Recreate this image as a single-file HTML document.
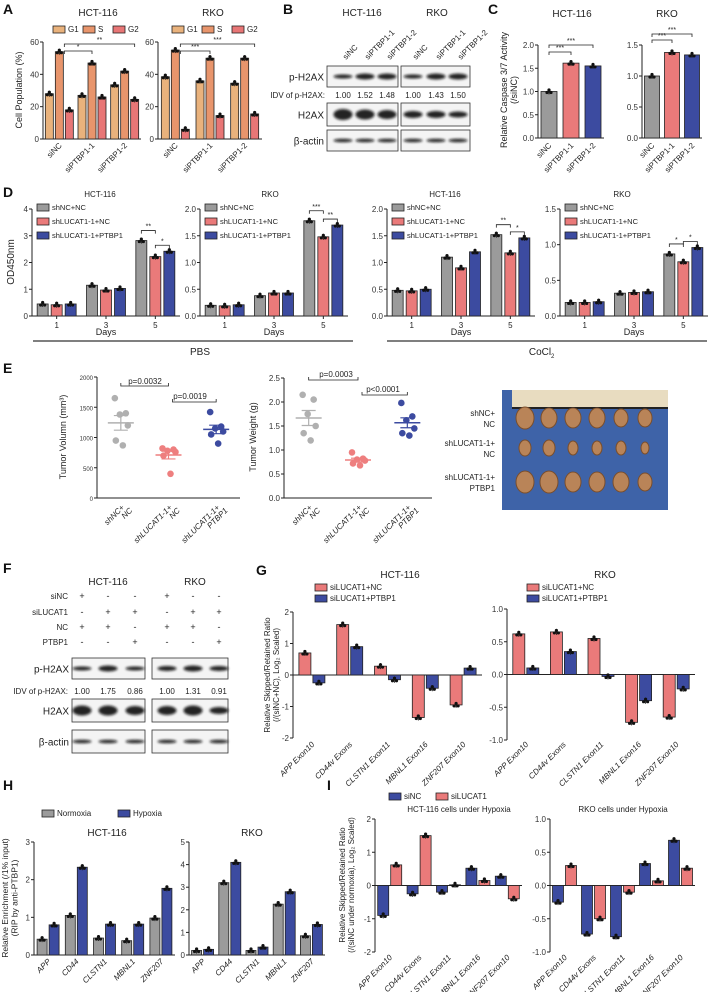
<!DOCTYPE html>
<html><head><meta charset="utf-8"><style>
html,body{margin:0;padding:0;background:#fff;}
svg{display:block;font-family:"Liberation Sans",sans-serif;}
</style></head><body>
<svg id="fig" width="710" height="992" viewBox="0 0 710 992" xmlns="http://www.w3.org/2000/svg">
<defs>
<filter id="blur1" x="-20%" y="-50%" width="140%" height="200%"><feGaussianBlur stdDeviation="1.3"/></filter>
</defs>
</svg>
<script>
// ---------- DATA ----------
const aCats = ["siNC","siPTBP1-1","siPTBP1-2"];
const aHctG1 = [28,27,33.5], aHctS = [54,47,42], aHctG2 = [18,26,24.5];
const aRkoG1 = [38.5,36,34.5], aRkoS = [55,50,50], aRkoG2 = [6,14.5,15.5];
const aTicks = [0,20,40,60];

const cCats = ["siNC","siPTBP1-1","siPTBP1-2"];
const cHct = [1.0,1.61,1.55], cRko = [1.0,1.38,1.34];
const cHctTicks = [0,0.5,1.0,1.5,2.0], cRkoTicks = [0,0.5,1.0,1.5];

const dCats = ["1","3","5"];
const dHctPbsNC = [0.45,1.15,2.82], dHctPbsLuc = [0.42,0.97,2.22], dHctPbsPt = [0.45,1.03,2.42];
const dRkoPbsNC = [0.2,0.38,1.78], dRkoPbsLuc = [0.19,0.43,1.48], dRkoPbsPt = [0.21,0.43,1.7];
const dHctCoNC = [0.48,1.1,1.52], dHctCoLuc = [0.47,0.9,1.18], dHctCoPt = [0.5,1.2,1.46];
const dRkoCoNC = [0.19,0.32,0.87], dRkoCoLuc = [0.19,0.33,0.76], dRkoCoPt = [0.2,0.34,0.96];

const eCats = ["shNC+\nNC","shLUCAT1-1+\nNC","shLUCAT1-1+\nPTBP1"];
const eVolNC = [1650,1400,1380,1200,950,870], eVolLuc = [820,800,780,760,700,400], eVolPt = [1420,1180,1150,1100,1050,900];
const eWtNC = [2.15,2.05,1.75,1.5,1.35,1.2], eWtLuc = [0.95,0.82,0.8,0.78,0.72,0.68], eWtPt = [1.98,1.7,1.62,1.45,1.35,1.3];
const eVolTicks = [0,500,1000,1500,2000], eWtTicks = [0,0.5,1.0,1.5,2.0,2.5];

const gCats = ["APP Exon10","CD44v Exons","CLSTN1 Exon11","MBNL1 Exon16","ZNF207 Exon10"];
const gHctNC = [0.7,1.6,0.28,-1.35,-0.95], gHctPt = [-0.25,0.9,-0.15,-0.42,0.22];
const gRkoNC = [0.62,0.65,0.55,-0.73,-0.65], gRkoPt = [0.1,0.35,-0.03,-0.4,-0.22];
const gHctTicks = [-2,-1,0,1,2], gRkoTicks = [-1.0,-0.5,0.0,0.5,1.0];

const hCats = ["APP","CD44","CLSTN1","MBNL1","ZNF207"];
const hHctNorm = [0.42,1.05,0.45,0.38,0.98], hHctHyp = [0.8,2.33,0.82,0.82,1.77];
const hRkoNorm = [0.2,3.2,0.2,2.25,0.85], hRkoHyp = [0.25,4.1,0.35,2.8,1.35];
const hHctTicks = [0,1,2,3], hRkoTicks = [0,1,2,3,4,5];

const iCats = ["APP Exon10","CD44v Exons","CLSTN1 Exon11","MBNL1 Exon16","ZNF207 Exon10"];
const iHctNC = [-0.9,-0.25,-0.2,0.52,0.28], iHctLuc = [0.62,1.5,0.02,0.15,-0.4];
const iRkoNC = [-0.25,-0.73,-0.77,0.33,0.68], iRkoLuc = [0.3,-0.5,-0.1,0.07,0.26];
const iHctTicks = [-2,-1,0,1,2], iRkoTicks = [-1.0,-0.5,0.0,0.5,1.0];

// ---------- HELPERS ----------
const NS = "http://www.w3.org/2000/svg";
const svg = document.getElementById("fig");
const GRAY="#9b9b9b", RED="#ea7a7a", BLUE="#3c4ba0", G1C="#e9b27c", SC="#e8956c", G2C="#e87676";
function mk(tag, attrs, parent){
  const e = document.createElementNS(NS, tag);
  for (const k in attrs) e.setAttribute(k, attrs[k]);
  (parent||svg).appendChild(e);
  return e;
}
function txt(x,y,s,size,opts,parent){
  opts = opts||{};
  const t = mk("text",{x:x,y:y,"font-size":size,"text-anchor":opts.anchor||"start",fill:opts.fill||"#222"},parent);
  if(opts.weight) t.setAttribute("font-weight",opts.weight);
  if(opts.italic) t.setAttribute("font-style","italic");
  if(opts.rot!==undefined) t.setAttribute("transform","rotate("+opts.rot+" "+x+" "+y+")");
  t.textContent = s;
  return t;
}
function fmt(v,dec){ return dec===undefined ? String(v) : v.toFixed(dec); }

function axes(o, g){
  const sy = v => o.yBot - (v-o.ymin)/(o.ymax-o.ymin)*(o.yBot-o.yTop);
  const ya = mk("line",{x1:o.x0,y1:o.yTop,x2:o.x0,y2:o.yBot,stroke:"#222","stroke-width":1},g);
  
  
  const zy = sy(Math.max(o.ymin,0));
  const xa = mk("line",{x1:o.x0,y1:zy,x2:o.x1,y2:zy,stroke:"#222","stroke-width":1},g);
  
  
  o.ticks.forEach(v=>{
    const y = sy(v);
    const tk = mk("line",{x1:o.x0-3,y1:y,x2:o.x0,y2:y,stroke:"#222","stroke-width":1},g);
    
    
    const tl = txt(o.x0-4,y+3,fmt(v,o.dec),o.tickSize||8,{anchor:"end",fill:"#333"},g);
    
    
  });
  return sy;
}

function barChart(o){
  const g = mk("g",{});
  
  
  const sy = axes(o,g);
  const n = o.cats.length, w = (o.x1-o.x0)/n;
  const sx = i => o.x0 + (i+0.5)*w;
  const ns = o.series.length;
  o.series.forEach((s,k)=>{
    s.vals.forEach((v,i)=>{
      const cx = sx(i) + (k-(ns-1)/2)*o.step;
      const col = s.colors ? s.colors[i] : s.color;
      const y1 = sy(Math.max(v,0)), y2 = sy(Math.min(v,0));
      const r = mk("rect",{x:cx-o.bw/2,y:y1,width:o.bw,height:Math.max(0.5,y2-y1),fill:col,stroke:"#222","stroke-width":0.8},g);
      
      
      const ty = sy(v);
      const e = mk("line",{x1:cx,y1:ty-3,x2:cx,y2:ty+3,stroke:"#111","stroke-width":0.8},g);
      
      
      [-2,0,2].forEach(d=>{
        const p = mk("circle",{cx:cx+d,cy:ty+(d===0?-1.5:1),r:1.6,fill:"#111"},g);
        
        
      });
    });
  });
  o.cats.forEach((c,i)=>{
    const x = sx(i);
    if(o.rot){
      const t = txt(x+3,o.labY,c,o.catSize||8,{anchor:"end",rot:-45,italic:o.italic,fill:"#222"},g);
      
      
    } else {
      const tk = mk("line",{x1:x,y1:o.yBot,x2:x,y2:o.yBot+3,stroke:"#222"},g);
      
      
      const t = txt(x,o.yBot+12,c,o.catSize||8,{anchor:"middle"},g);
      
      
    }
  });
  return {g:g, sx:sx, sy:sy};
}

function legend(items, x, y, dx, dy, size, g){
  items.forEach((it,i)=>{
    const lx = x + i*dx, ly = y + i*dy;
    const b = mk("rect",{x:lx,y:ly-6,width:12,height:7,fill:it[1],stroke:"#222","stroke-width":0.8},g);
    
    
    const t = txt(lx+15,ly,it[0],size||8,{},g);
    
    
  });
}
function sig(x1,x2,y,label,g,down){
  const d = down?-3:3;
  const p = mk("path",{d:"M"+x1+" "+(y+d)+"V"+y+"H"+x2+"V"+(y+d),fill:"none",stroke:"#222","stroke-width":0.8},g);
  
  
  const t = txt((x1+x2)/2,down?y+9:y-2,label,7,{anchor:"middle"},g);
  
  
}
function letter(s,x,y){
  const t = txt(x,y,s,14,{weight:"bold",fill:"#111"});
  
  
}
function title(s,x,y,size){
  const t = txt(x,y,s,size||10,{anchor:"middle"});
  
  
}
function ylab(lines,x,y,size){
  lines.forEach((s,i)=>{
    const t = txt(x+i*(size+1),y,s,size,{anchor:"middle",rot:-90});
    
    
  });
}

// ---------- PANEL A ----------
letter("A",3,14);
title("HCT-116",98,16,10); title("RKO",213,16,10);
legend([["G1",G1C],["S",SC],["G2",G2C]],53,32,30,0,8);
legend([["G1",G1C],["S",SC],["G2",G2C]],172,32,30,0,8);
ylab(["Cell Population (%)"],22,90,9);
const A1 = barChart({name:"panel-a-hct116-chart",x0:43,x1:141,yTop:42,yBot:139,ymin:0,ymax:60,ticks:aTicks,cats:aCats,rot:true,labY:146,
  series:[{vals:aHctG1,color:G1C},{vals:aHctS,color:SC},{vals:aHctG2,color:G2C}],bw:8,step:10});
sig(A1.sx(0)+5,A1.sx(1),51,"*",A1.g); sig(A1.sx(0)+5,A1.sx(2)+10,44,"**",A1.g);
const A2 = barChart({name:"panel-a-rko-chart",x0:158,x1:262,yTop:42,yBot:139,ymin:0,ymax:60,ticks:aTicks,cats:aCats,rot:true,labY:146,
  series:[{vals:aRkoG1,color:G1C},{vals:aRkoS,color:SC},{vals:aRkoG2,color:G2C}],bw:8,step:10});
sig(A2.sx(0)+5,A2.sx(1),51,"***",A2.g); sig(A2.sx(0)+5,A2.sx(2)+10,44,"***",A2.g);

// ---------- PANEL B (western blot) ----------
letter("B",283,14);
title("HCT-116",362,16,10); title("RKO",437,16,10);
const bLanes = [343,365,387,413,436,458];
const bLaneLabels = ["siNC","siPTBP1-1","siPTBP1-2","siNC","siPTBP1-1","siPTBP1-2"];
bLanes.forEach((x,i)=>{
  const t = txt(x+3,60,bLaneLabels[i],8,{rot:-45});
  
  
});
function blot(rows, boxes, lanes){
  rows.forEach(r=>{
    const lab = txt(boxes[0][0]-3,(r.y0+r.y1)/2+4,r.label,10,{anchor:"end"});
    
    
    boxes.forEach(b=>{
      const rc = mk("rect",{x:b[0],y:r.y0,width:b[1]-b[0],height:r.y1-r.y0,fill:"#f4f4f4",stroke:"#333","stroke-width":0.8});
      
      
    });
    lanes.forEach((x,i)=>{
      const h = r.h[i];
      const el = mk("ellipse",{cx:x,cy:(r.y0+r.y1)/2,rx:9.5,ry:h,fill:"#111",filter:"url(#blur1)",opacity:0.9});
      
      
    });
  });
}
blot([
  {label:"p-H2AX",y0:66,y1:87,h:[2,3,3,2,3,3]},
  {label:"H2AX",y0:103,y1:126,h:[5.5,5,4.5,3.5,3.5,3]},
  {label:"β-actin",y0:130,y1:151,h:[1.8,1.8,1.8,1.8,1.8,1.8]}
],[[327,398],[401,470]],bLanes);
const bIdv = ["1.00","1.52","1.48","1.00","1.43","1.50"];
let t0 = txt(325,98,"IDV of p-H2AX:",8,{anchor:"end"});
 
bLanes.forEach((x,i)=>{
  const t = txt(x,98,bIdv[i],8,{anchor:"middle"});
  
  
});

// ---------- PANEL C ----------
letter("C",488,14);
title("HCT-116",572,17,10); title("RKO",667,17,10);
ylab(["Relative Caspase 3/7 Activity","(/siNC)"],507,90,9);
const C1 = barChart({name:"panel-c-hct116-chart",x0:538,x1:604,yTop:45,yBot:138,ymin:0,ymax:2,ticks:cHctTicks,dec:1,cats:cCats,rot:true,labY:146,
  series:[{vals:cHct,colors:[GRAY,RED,BLUE]}],bw:16,step:0});
sig(C1.sx(0),C1.sx(1),52,"***",C1.g); sig(C1.sx(0),C1.sx(2),45,"***",C1.g);
const C2 = barChart({name:"panel-c-rko-chart",x0:642,x1:702,yTop:45,yBot:138,ymin:0,ymax:1.5,ticks:cRkoTicks,dec:1,cats:cCats,rot:true,labY:146,
  series:[{vals:cRko,colors:[GRAY,RED,BLUE]}],bw:15,step:0});
sig(C2.sx(0),C2.sx(1),40,"***",C2.g); sig(C2.sx(0),C2.sx(2),34,"***",C2.g);

// ---------- PANEL D ----------
letter("D",3,197);
title("HCT-116",100,197,8); title("RKO",270,197,8); title("HCT-116",445,197,8); title("RKO",622,197,8);
ylab(["OD450nm"],14,262,10);
const dDefs = [
  {n:"panel-d-hct116-pbs",x0:32,x1:180,ymax:4,ticks:[0,1,2,3,4],dec:undefined,s:[dHctPbsNC,dHctPbsLuc,dHctPbsPt]},
  {n:"panel-d-rko-pbs",x0:200,x1:348,ymax:2,ticks:[0,0.5,1,1.5,2],dec:1,s:[dRkoPbsNC,dRkoPbsLuc,dRkoPbsPt]},
  {n:"panel-d-hct116-cocl2",x0:387,x1:535,ymax:2,ticks:[0,0.5,1,1.5,2],dec:1,s:[dHctCoNC,dHctCoLuc,dHctCoPt]},
  {n:"panel-d-rko-cocl2",x0:560,x1:708,ymax:1.5,ticks:[0,0.5,1,1.5],dec:1,s:[dRkoCoNC,dRkoCoLuc,dRkoCoPt]}
];
const dSig = [["**","*"],["***","**"],["**","*"],["*","*"]];
dDefs.forEach((d,j)=>{
  const C = barChart({name:d.n,x0:d.x0,x1:d.x1,yTop:209,yBot:316,ymin:0,ymax:d.ymax,ticks:d.ticks,dec:d.dec,cats:dCats,
    series:[{vals:d.s[0],color:GRAY},{vals:d.s[1],color:RED},{vals:d.s[2],color:BLUE}],bw:11,step:14,catSize:8});
  legend([["shNC+NC",GRAY],["shLUCAT1-1+NC",RED],["shLUCAT1-1+PTBP1",BLUE]],d.x0+5,210,0,14,7.5,C.g);
  const dl = txt((d.x0+d.x1)/2,335,"Days",9,{anchor:"middle"},C.g);
   
  const cx = C.sx(2);
  const y0 = Math.min(C.sy(d.s[0][2]),C.sy(d.s[1][2]))-10;
  sig(cx-14,cx,y0,dSig[j][0],C.g);
  sig(cx,cx+14,Math.min(C.sy(d.s[1][2]),C.sy(d.s[2][2]))-6,dSig[j][1],C.g);
});
let dl1 = mk("line",{x1:33,y1:341,x2:353,y2:341,stroke:"#555","stroke-width":1.5});
 
let dl2 = mk("line",{x1:387,y1:341,x2:707,y2:341,stroke:"#555","stroke-width":1.5});
 
title("PBS",200,355,10);
let co = txt(540,355,"CoCl",10,{anchor:"middle"});  
let co2 = txt(551,358,"2",6);  

// ---------- PANEL E ----------
letter("E",3,373);
function dotChart(o){
  const g = mk("g",{});
  
  
  const sy = axes(o,g);
  const w = (o.x1-o.x0)/o.groups.length;
  const sx = i => o.x0 + (i+0.5)*w;
  const offs = [-6,5,-1,7,-5,2];
  o.groups.forEach((vals,i)=>{
    const cx = sx(i), col = o.colors[i];
    vals.forEach((v,k)=>{
      const c = mk("circle",{cx:cx+offs[k%offs.length],cy:sy(v),r:3.3,fill:col},g);
      
      
    });
    const mean = vals.reduce((a,b)=>a+b,0)/vals.length;
    const ml = mk("line",{x1:cx-13,y1:sy(mean),x2:cx+13,y2:sy(mean),stroke:col,"stroke-width":1.5},g);
     
    const sd = Math.sqrt(vals.reduce((a,b)=>a+(b-mean)*(b-mean),0)/(vals.length-1))/Math.sqrt(vals.length);
    const el = mk("path",{d:"M"+(cx-7)+" "+sy(mean+sd)+"H"+(cx+7)+"M"+cx+" "+sy(mean+sd)+"V"+sy(mean-sd)+"M"+(cx-7)+" "+sy(mean-sd)+"H"+(cx+7),stroke:col,fill:"none","stroke-width":1.2},g);
     
    o.cats[i].split("\n").forEach((s,li)=>{
      const t = txt(cx+4+li*8,o.yBot+10+li*3,s,8,{anchor:"end",rot:-45,italic:true},g);
       
    });
  });
  return {g:g,sx:sx,sy:sy};
}
ylab(["Tumor Volumn (mm³)"],66,437,9);
const E1 = dotChart({name:"panel-e-tumor-volume",x0:97,x1:240,yTop:377,yBot:498,ymin:0,ymax:2000,ticks:eVolTicks,tickSize:6,cats:eCats,
  groups:[eVolNC,eVolLuc,eVolPt],colors:["#b0b0b0","#ee7f7f",BLUE]});
sig(E1.sx(0),E1.sx(1),386,"",E1.g,true);
let p1=txt(145,384,"p=0.0032",8,{anchor:"middle"});  
sig(E1.sx(1)+4,E1.sx(2),402,"",E1.g,true);
let p2=txt(190,399,"p=0.0019",8,{anchor:"middle"});  
ylab(["Tumor Weight (g)"],256,437,9);
const E2 = dotChart({name:"panel-e-tumor-weight",x0:284,x1:432,yTop:378,yBot:498,ymin:0,ymax:2.5,ticks:eWtTicks,dec:1,cats:eCats,
  groups:[eWtNC,eWtLuc,eWtPt],colors:["#b0b0b0","#ee7f7f",BLUE]});
sig(E2.sx(0),E2.sx(1),380,"",E2.g,true);
let p3=txt(336,377,"p=0.0003",8,{anchor:"middle"});  
sig(E2.sx(1)+4,E2.sx(2),395,"",E2.g,true);
let p4=txt(383,392,"p<0.0001",8,{anchor:"middle"});  
// photo
const ph = mk("g",{});  
let pr = mk("rect",{x:502,y:390,width:166,height:120,fill:"#3e63a8"},ph);
 
let ru = mk("rect",{x:512,y:390,width:156,height:18,fill:"#e8dcc0"},ph);
 
let rb = mk("rect",{x:512,y:407,width:156,height:2,fill:"#222"},ph);
 
const tumorRows = [[418,[9,8,8,8,7,7]],[448,[6,6,5,5,5,4]],[482,[9,9,8,8,8,7]]];
tumorRows.forEach(r=>{
  r[1].forEach((s,k)=>{
    const el = mk("ellipse",{cx:525+k*24,cy:r[0],rx:s,ry:s+2,fill:"#b98458",stroke:"#7a4e2c","stroke-width":1},ph);
     
  });
});
[["shNC+","NC",418],["shLUCAT1-1+","NC",448],["shLUCAT1-1+","PTBP1",482]].forEach(r=>{
  const a = txt(495,r[2]-2,r[0],8,{anchor:"end"});  
  const b = txt(495,r[2]+9,r[1],8,{anchor:"end"});  
});

// ---------- PANEL F ----------
letter("F",3,573);
title("HCT-116",108,585,10); title("RKO",195,585,10);
const fLanes = [82,108,135,167,193,219];
const fRows = [["siNC",599,["+","-","-","+","-","-"]],["siLUCAT1",615,["-","+","+","-","+","+"]],["NC",630,["+","+","-","+","+","-"]],["PTBP1",645,["-","-","+","-","-","+"]]];
fRows.forEach(r=>{
  const l = txt(68,r[1],r[0],8,{anchor:"end"});  
  r[2].forEach((s,i)=>{
    const t = txt(fLanes[i],r[1],s,9,{anchor:"middle"});  
  });
});
blot([
  {label:"p-H2AX",y0:658,y1:679,h:[2,3,2,2.5,3,2.5]},
  {label:"H2AX",y0:699,y1:722,h:[5,5,4.5,4.5,5,3.5]},
  {label:"β-actin",y0:730,y1:753,h:[1.8,1.8,1.8,1.8,1.8,1.8]}
],[[72,145],[152,228]],fLanes);
const fIdv = ["1.00","1.75","0.86","1.00","1.31","0.91"];
let ft = txt(68,694,"IDV of p-H2AX:",8,{anchor:"end"});  
fLanes.forEach((x,i)=>{
  const t = txt(x,694,fIdv[i],8,{anchor:"middle"});  
});

// ---------- PANEL G ----------
letter("G",256,575);
title("HCT-116",400,578,10); title("RKO",605,578,10);
ylab(["Relative Skipped/Retained Ratio","(/(siNC+NC), Log₂ Scaled)"],270,675,8);
const G1 = barChart({name:"panel-g-hct116-chart",x0:293,x1:482,yTop:612,yBot:738,ymin:-2,ymax:2,ticks:gHctTicks,cats:gCats,rot:true,labY:745,italic:true,
  series:[{vals:gHctNC,color:RED},{vals:gHctPt,color:BLUE}],bw:12,step:14});
legend([["siLUCAT1+NC",RED],["siLUCAT1+PTBP1",BLUE]],315,590,0,11,8,G1.g);
const G2 = barChart({name:"panel-g-rko-chart",x0:507,x1:695,yTop:609,yBot:740,ymin:-1,ymax:1,ticks:gRkoTicks,dec:1,cats:gCats,rot:true,labY:745,italic:true,
  series:[{vals:gRkoNC,color:RED},{vals:gRkoPt,color:BLUE}],bw:12,step:14});
legend([["siLUCAT1+NC",RED],["siLUCAT1+PTBP1",BLUE]],527,590,0,11,8,G2.g);

// ---------- PANEL H ----------
letter("H",3,790);
legend([["Normoxia",GRAY],["Hypoxia",BLUE]],42,816,76,0,8);
title("HCT-116",107,836,10); title("RKO",252,836,10);
ylab(["Relative Enrichment (/1% input)","(RIP by anti-PTBP1)"],8,898,8.5);
const H1 = barChart({name:"panel-h-hct116-chart",x0:34,x1:175,yTop:842,yBot:955,ymin:0,ymax:3,ticks:hHctTicks,cats:hCats,rot:true,labY:962,italic:true,
  series:[{vals:hHctNorm,color:GRAY},{vals:hHctHyp,color:BLUE}],bw:10,step:12});
const H2 = barChart({name:"panel-h-rko-chart",x0:189,x1:325,yTop:842,yBot:955,ymin:0,ymax:5,ticks:hRkoTicks,cats:hCats,rot:true,labY:962,italic:true,
  series:[{vals:hRkoNorm,color:GRAY},{vals:hRkoHyp,color:BLUE}],bw:10,step:12});

// ---------- PANEL I ----------
letter("I",327,790);
legend([["siNC",BLUE],["siLUCAT1",RED]],389,799,47,0,8);
title("HCT-116 cells under Hypoxia",459,812,8); title("RKO cells under Hypoxia",623,812,8);
ylab(["Relative Skipped/Retained Ratio","(/(siNC under normoxia), Log₂ Scaled)"],345,885,8);
const I1 = barChart({name:"panel-i-hct116-chart",x0:375,x1:522,yTop:819,yBot:952,ymin:-2,ymax:2,ticks:iHctTicks,cats:iCats,rot:true,labY:958,italic:true,
  series:[{vals:iHctNC,color:BLUE},{vals:iHctLuc,color:RED}],bw:11,step:13});
const I2 = barChart({name:"panel-i-rko-chart",x0:550,x1:695,yTop:819,yBot:952,ymin:-1,ymax:1,ticks:iRkoTicks,dec:1,cats:iCats,rot:true,labY:958,italic:true,
  series:[{vals:iRkoNC,color:BLUE},{vals:iRkoLuc,color:RED}],bw:11,step:13});
</script>
</body></html>
